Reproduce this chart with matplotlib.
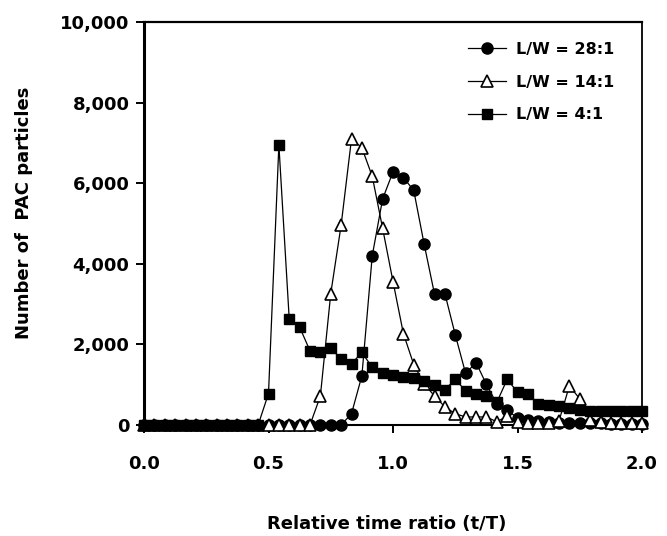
import matplotlib
matplotlib.use("Agg")
import matplotlib.pyplot as plt
from matplotlib.ticker import FuncFormatter, MultipleLocator

# x positions: relative time ratio (t/T), sampled every 1/24
n_points = 49
time_ratio = [k / 24 for k in range(n_points)]

lw28 = [0] * 20 + [280, 1220, 4200, 5610, 6280, 6140, 5820, 4490, 3250, 3260,
                   2240, 1280, 1550, 1010, 530, 360, 180, 120, 100, 80,
                   60, 50, 60, 40, 40, 30, 30, 30, 20]
lw14 = [0] * 17 + [720, 3260, 4960, 7100, 6880, 6170, 4880, 3560, 2270, 1500,
                   1020, 720, 450, 280, 200, 200, 200, 80, 220, 80,
                   60, 60, 60, 100, 970, 650, 120, 80, 60, 60,
                   40, 40]
lw4 = [0] * 12 + [780, 6950, 2620, 2430, 1840, 1800, 1910, 1630, 1520, 1800,
                  1430, 1280, 1230, 1200, 1170, 1090, 1000, 880, 1130, 850,
                  770, 720, 560, 1130, 820, 760, 520, 490, 480, 430,
                  360, 340, 340, 340, 340, 340, 340]

labels = ["L/W = 28:1", "L/W = 14:1", "L/W = 4:1"]
x_ticks = [0.0, 0.5, 1.0, 1.5, 2.0]
y_ticks = [0, 2000, 4000, 6000, 8000, 10000]

plt.rcParams['font.family'] = ['DejaVu Sans']
plt.rcParams['font.weight'] = 'bold'

W, H = 667, 536
fig = plt.figure(figsize=(W / 100, H / 100), dpi=100)
left, right, top, bottom = 144, 642, 22, 425
ax = fig.add_axes([left / W, 1 - bottom / H, (right - left) / W, (bottom - top) / H])

ax.plot(time_ratio, lw28, color='black', lw=0.9, marker='o', ms=8,
        mfc='black', mec='black', label=labels[0], clip_on=False, zorder=3)
ax.plot(time_ratio, lw14, color='black', lw=0.9, marker='^', ms=8.5,
        mfc='white', mec='black', mew=1.2, label=labels[1], clip_on=False, zorder=4)
ax.plot(time_ratio, lw4, color='black', lw=0.9, marker='s', ms=7.5,
        mfc='black', mec='black', label=labels[2], clip_on=False, zorder=5)

ax.set_xlim(0, 2.0)
ax.set_ylim(0, 10000)
ax.set_xticks(x_ticks)
ax.set_yticks(y_ticks)
ax.xaxis.set_major_formatter(FuncFormatter(lambda v, p: f"{v:.1f}"))
ax.yaxis.set_major_formatter(FuncFormatter(lambda v, p: f"{int(v):,}"))

ax.tick_params(axis='both', direction='out', length=5.5, width=1.4,
               labelsize=13, color='black')
ax.tick_params(axis='x', pad=16)
ax.tick_params(axis='y', pad=5)
for lab in ax.get_xticklabels() + ax.get_yticklabels():
    lab.set_fontweight('bold')

ax.spines['left'].set_linewidth(2.2)
ax.spines['bottom'].set_linewidth(1.5)
ax.spines['top'].set_linewidth(1.6)
ax.spines['right'].set_linewidth(1.3)

ax.set_xlabel("Relative time ratio (t/T)", fontsize=13, fontweight='bold')
ax.set_ylabel("Number of  PAC particles", fontsize=13, fontweight='bold')
ax.xaxis.set_label_coords((387 - left) / (right - left), (bottom - 515) / (bottom - top))
ax.yaxis.set_label_coords((33 - left) / (right - left), (bottom - 213) / (bottom - top))

leg = ax.legend(loc='upper left',
                bbox_to_anchor=((468 - left) / (right - left), (bottom - 42) / (bottom - top)),
                frameon=False, fontsize=11.5, handlelength=2.4, handletextpad=0.6,
                labelspacing=1.1, borderpad=0, borderaxespad=0)
for t in leg.get_texts():
    t.set_fontweight('bold')

fig.savefig("out.png", dpi=100)
